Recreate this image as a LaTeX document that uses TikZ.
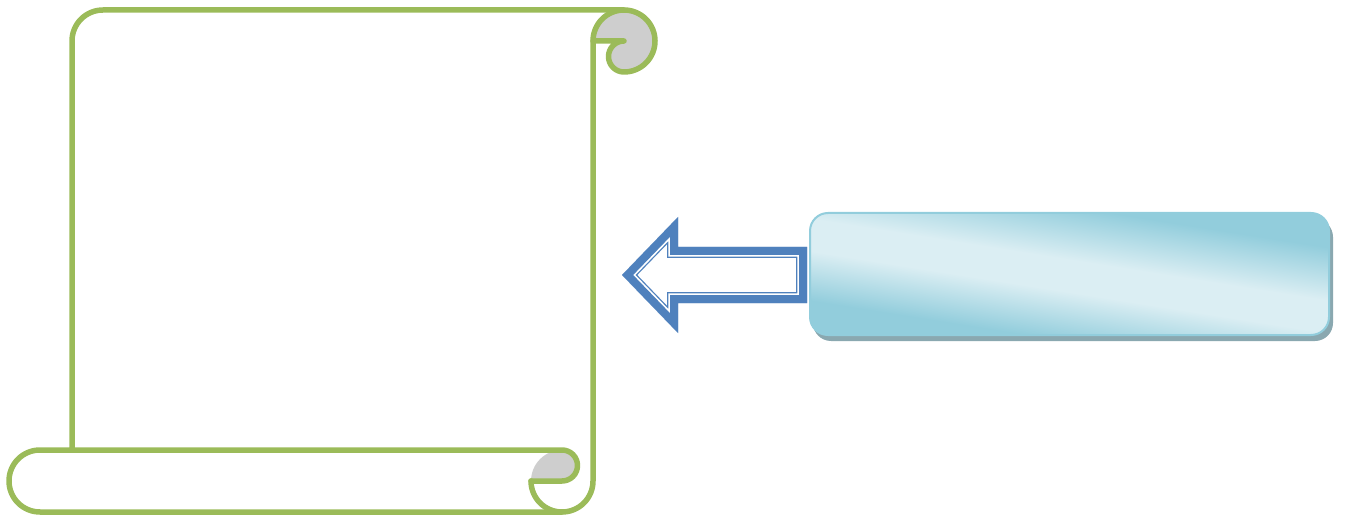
\documentclass[tikz,border=0pt]{standalone}
\definecolor{scrollgreen}{RGB}{155,187,89}
\definecolor{curlgray}{RGB}{206,206,206}
\definecolor{arrowblue}{RGB}{79,129,189}
\definecolor{boxdark}{RGB}{146,205,220}
\definecolor{boxlight}{RGB}{219,238,243}
\definecolor{boxedge}{RGB}{146,205,220}
\definecolor{boxshadow}{RGB}{138,168,176}
\pgfdeclareverticalshading{boxshade}{100bp}{color(0bp)=(boxdark); color(31bp)=(boxdark); color(45bp)=(boxlight); color(54bp)=(boxlight); color(69bp)=(boxdark); color(100bp)=(boxdark)}
\begin{document}
\begin{tikzpicture}[x=1pt,y=-1pt,
  scrollline/.style={draw=scrollgreen,line width=5.5pt,line join=round,line cap=round},
  curlfill/.style={fill=curlgray},
  arrowband/.style={line join=miter}]
\useasboundingbox (0,0) rectangle (1346,521);
% scroll curls
\fill[curlfill] (593,41) arc[start angle=180,end angle=450,radius=31] arc[start angle=90,end angle=270,radius=15.5] -- cycle;
\fill[curlfill] (531,481) arc[start angle=180,end angle=270,radius=31] arc[start angle=270,end angle=450,radius=15.5] -- cycle;
% scroll outline
\draw[scrollline] (72,450) -- (72,41) arc[start angle=180,end angle=270,radius=31] -- (624,10)
  arc[start angle=270,end angle=450,radius=31] arc[start angle=90,end angle=270,radius=15.5]
  -- (593,41) -- (593,481) arc[start angle=0,end angle=90,radius=31] -- (40,512)
  arc[start angle=90,end angle=270,radius=31] -- (562,450)
  arc[start angle=270,end angle=450,radius=15.5] -- (531,481);
\draw[scrollline] (593,41) arc[start angle=180,end angle=270,radius=31];
\draw[scrollline] (531,481) arc[start angle=180,end angle=90,radius=31];
% block arrow
\begin{scope}
\clip (622,275) -- (678,217) -- (678,247) -- (807,247) -- (807,303) -- (678,303) -- (678,333) -- cycle;
\fill[white] (622,275) -- (678,217) -- (678,247) -- (807,247) -- (807,303) -- (678,303) -- (678,333) -- cycle;
\draw[arrowband,arrowblue,line width=22pt] (622,275) -- (678,217) -- (678,247) -- (807,247) -- (807,303) -- (678,303) -- (678,333) -- cycle;
\draw[arrowband,white,line width=19.4pt] (622,275) -- (678,217) -- (678,247) -- (807,247) -- (807,303) -- (678,303) -- (678,333) -- cycle;
\draw[arrowband,arrowblue,line width=16pt] (622,275) -- (678,217) -- (678,247) -- (807,247) -- (807,303) -- (678,303) -- (678,333) -- cycle;
\end{scope}
% box
\fill[boxshadow, rounded corners=18pt] (813,219) rectangle (1333,341);
\shade[rounded corners=18pt, shading=boxshade, shading angle=-9] (810,213) rectangle (1329,335);
\draw[boxedge, line width=2pt, rounded corners=18pt] (810,213) rectangle (1329,335);
\end{tikzpicture}
\end{document}
